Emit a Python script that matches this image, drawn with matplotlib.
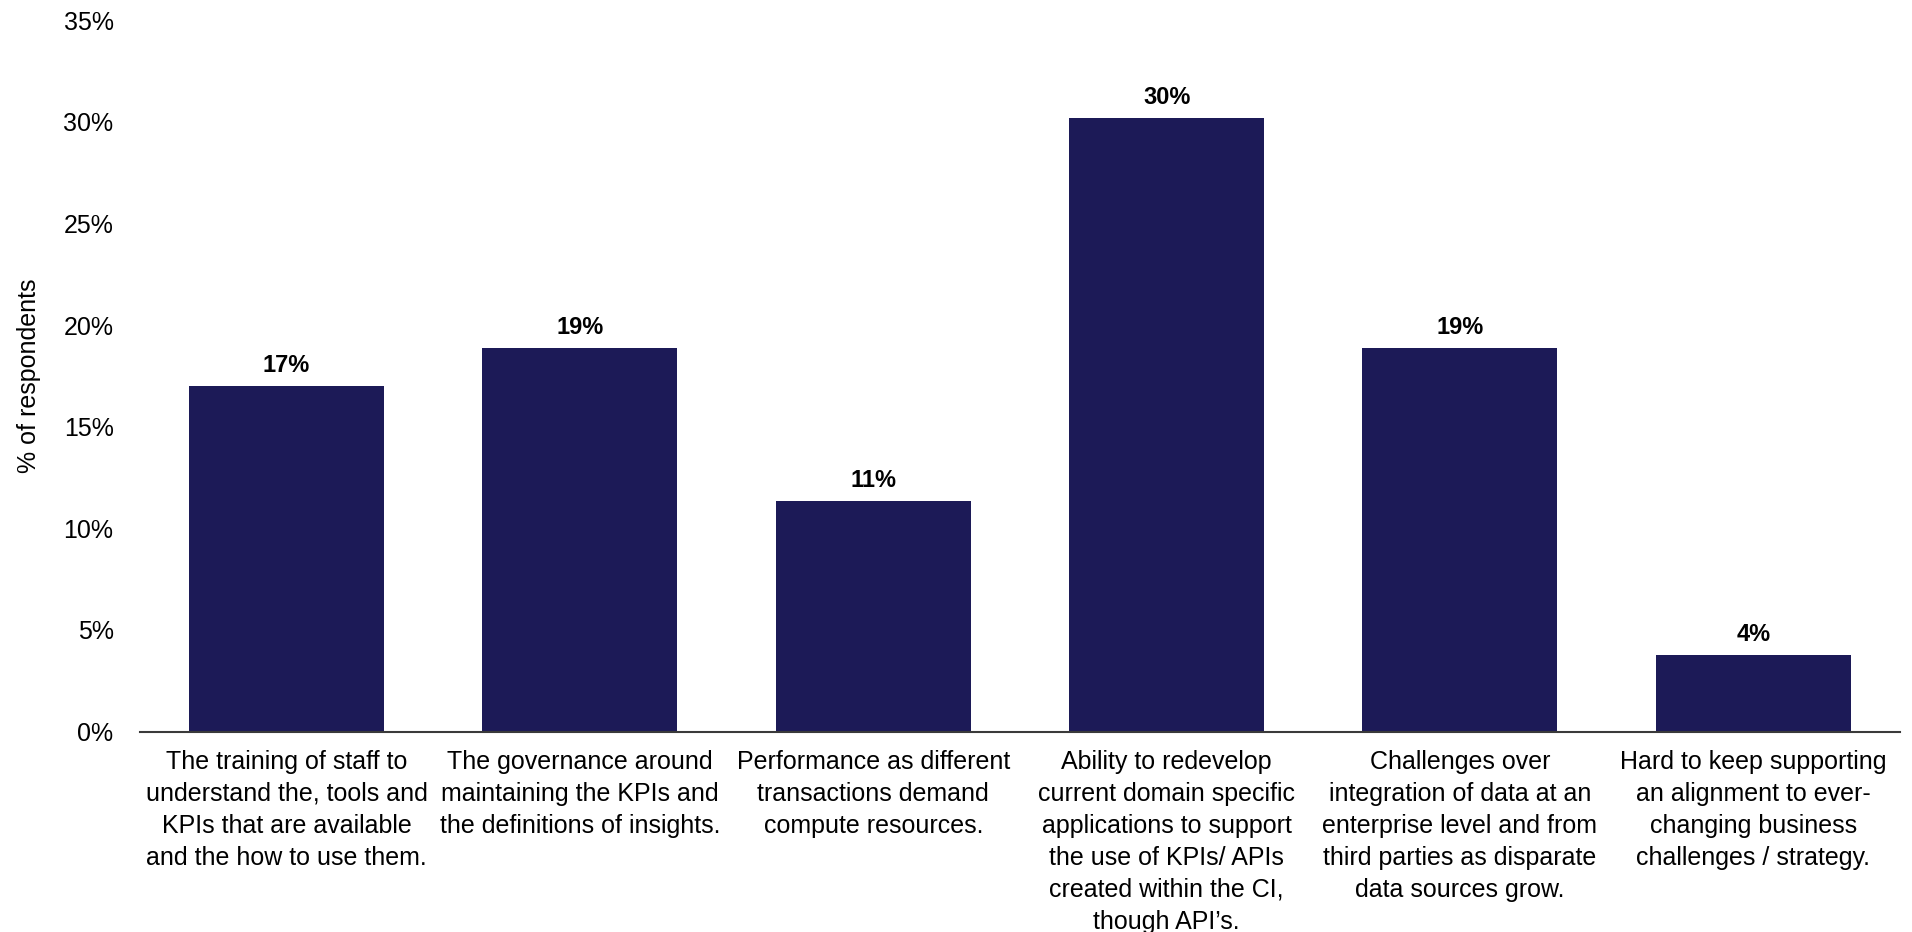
import numpy as np
import matplotlib.pyplot as plt
from matplotlib.ticker import PercentFormatter

plt.rcParams['font.family'] = ['Liberation Sans', 'DejaVu Sans']

# responses per challenge (n = 53)
challenges = [
    "The training of staff to\nunderstand the, tools and\nKPIs that are available\nand the how to use them.",
    "The governance around\nmaintaining the KPIs and\nthe definitions of insights.",
    "Performance as different\ntransactions demand\ncompute resources.",
    "Ability to redevelop\ncurrent domain specific\napplications to support\nthe use of KPIs/ APIs\ncreated within the CI,\nthough API\u2019s.",
    "Challenges over\nintegration of data at an\nenterprise level and from\nthird parties as disparate\ndata sources grow.",
    "Hard to keep supporting\nan alignment to ever-\nchanging business\nchallenges / strategy.",
]
counts = [9, 10, 6, 16, 10, 2]
total = 53
pct = [100 * c / total for c in counts]

bar_color = "#1c1a57"

fig = plt.figure(figsize=(19.12, 9.32), dpi=100)
ax = fig.add_axes([0.0732, 0.215, 0.9205, 0.7635])

x = np.arange(len(challenges))
bars = ax.bar(x, pct, width=0.665, color=bar_color)

for b, v in zip(bars, pct):
    ax.text(b.get_x() + b.get_width() / 2, v + 0.45, f"{v:.0f}%",
            ha="center", va="bottom", fontsize=17, fontweight="bold")

ax.set_xlim(-0.5, 5.5)
ax.set_ylim(0, 35)
ax.set_yticks(np.arange(0, 36, 5))
ax.yaxis.set_major_formatter(PercentFormatter(decimals=0))
ax.set_xticks(x)
ax.set_xticklabels(challenges, fontsize=18, linespacing=1.42)
ax.set_ylabel("% of respondents", fontsize=18, labelpad=16)

ax.tick_params(axis="y", length=0, labelsize=18, pad=19)
ax.tick_params(axis="x", length=0, pad=13)
for s in ["top", "right", "left"]:
    ax.spines[s].set_visible(False)
ax.spines["bottom"].set_color("#3a3a3a")
ax.spines["bottom"].set_linewidth(1.5)

fig.savefig("out.png", dpi=100)
